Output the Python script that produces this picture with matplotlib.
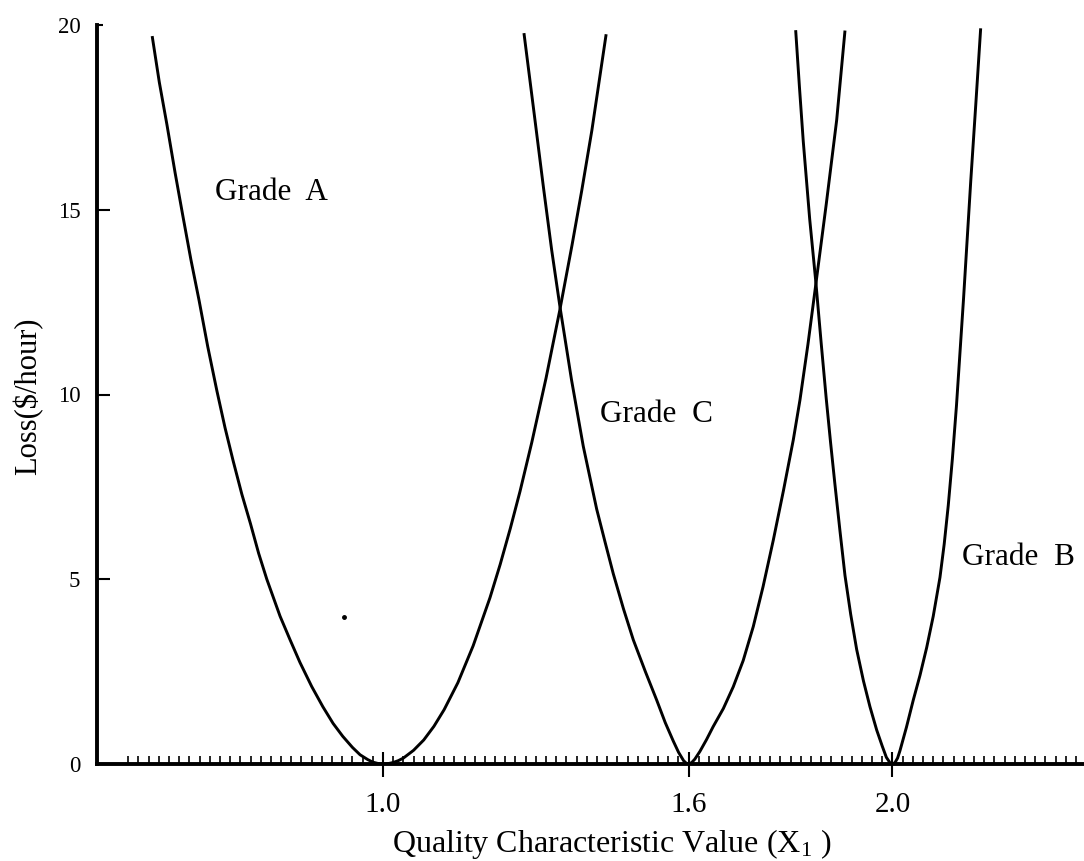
import numpy as np
import matplotlib
matplotlib.use('Agg')
import matplotlib.pyplot as plt
from matplotlib.ticker import FixedLocator

plt.rcParams['font.family'] = ['Liberation Serif', 'DejaVu Serif']
plt.rcParams['mathtext.fontset'] = 'custom'
plt.rcParams['mathtext.rm'] = 'Liberation Serif'
plt.rcParams['mathtext.it'] = 'Liberation Serif:italic'

# Courbes de perte (x = valeur de la caracteristique, y = $/heure)
grade_a_x = [0.547, 0.561, 0.576, 0.592, 0.607, 0.623, 0.639, 0.656, 0.674, 0.690,
             0.706, 0.723, 0.740, 0.756, 0.772, 0.798, 0.818, 0.837, 0.860, 0.882,
             0.902, 0.921, 0.940, 0.955, 0.970, 0.980, 0.990, 1.000, 1.010, 1.020,
             1.030, 1.040, 1.060, 1.080, 1.100, 1.120, 1.147, 1.177, 1.210, 1.230,
             1.250, 1.269, 1.292, 1.320, 1.347, 1.371, 1.390, 1.410, 1.438]
grade_a_loss = [19.70, 18.45, 17.30, 16.00, 14.85, 13.65, 12.55, 11.30, 10.10, 9.10,
                8.20, 7.30, 6.50, 5.70, 5.00, 4.00, 3.35, 2.75, 2.10, 1.55,
                1.10, 0.75, 0.45, 0.25, 0.12, 0.05, 0.015, 0.00, 0.01, 0.04,
                0.09, 0.16, 0.37, 0.65, 1.02, 1.47, 2.20, 3.20, 4.50, 5.40,
                6.38, 7.38, 8.70, 10.44, 12.28, 14.04, 15.51, 17.15, 19.75]

grade_c_x = [1.2767, 1.2983, 1.3150, 1.3311, 1.3474, 1.3700, 1.3931, 1.4194, 1.4360,
             1.4520, 1.4720, 1.4913, 1.5150, 1.5372, 1.5540, 1.5698, 1.5800, 1.5900,
             1.5950, 1.6000, 1.6060, 1.6120, 1.6220, 1.6350, 1.6480, 1.6680, 1.6875,
             1.7070, 1.7268, 1.7460, 1.7661, 1.7860, 1.8053, 1.8184, 1.8340, 1.8498,
             1.8700, 1.8905, 1.9068]
grade_c_loss = [19.78, 17.43, 15.60, 13.91, 12.37, 10.40, 8.60, 6.90, 6.00,
                5.15, 4.20, 3.36, 2.50, 1.73, 1.12, 0.62, 0.32, 0.09,
                0.025, 0.00, 0.04, 0.13, 0.34, 0.66, 1.01, 1.50, 2.09,
                2.80, 3.72, 4.80, 6.06, 7.40, 8.77, 9.85, 11.35, 13.01,
                15.15, 17.43, 19.85]

grade_b_x = [1.8100, 1.8175, 1.8249, 1.8375, 1.8498, 1.8600, 1.8699, 1.8785, 1.8868,
             1.8970, 1.9068, 1.9180, 1.9297, 1.9430, 1.9558, 1.9690, 1.9800, 1.9880,
             1.9950, 2.0000, 2.0050, 2.0100, 2.0147, 2.0275, 2.0408, 2.0540, 2.0671,
             2.0800, 2.0932, 2.1015, 2.1095, 2.1175, 2.1256, 2.1395, 2.1535, 2.1635,
             2.1731]
grade_b_loss = [19.86, 18.30, 16.85, 14.75, 13.01, 11.40, 9.90, 8.70, 7.60,
                6.30, 5.10, 4.05, 3.10, 2.25, 1.55, 0.92, 0.48, 0.18,
                0.035, 0.00, 0.04, 0.16, 0.36, 1.00, 1.73, 2.40, 3.15,
                4.00, 5.05, 5.95, 7.00, 8.25, 9.70, 12.60, 15.75, 17.85,
                19.91]

# petit point isole visible sur l'original
stray_x = [0.924]
stray_y = [3.99]

target_values = [1.0, 1.6, 2.0]
target_labels = ['1.0', '1.6', '2.0']
loss_ticks = [0, 5, 10, 15, 20]

fig = plt.figure(figsize=(10.84, 8.61), dpi=100)
ax = fig.add_axes([97 / 1084, 97 / 861, 987 / 1084, 739 / 861])

for xs, ys in [(grade_a_x, grade_a_loss), (grade_c_x, grade_c_loss), (grade_b_x, grade_b_loss)]:
    ax.plot(xs, ys, color='black', lw=2.1, solid_joinstyle='round', solid_capstyle='butt')
ax.plot(stray_x, stray_y, 'o', color='black', ms=2.5)

ax.set_xlim(0.4387, 2.3759)
ax.set_ylim(0, 20)

for side in ['top', 'right']:
    ax.spines[side].set_visible(False)
for side in ['left', 'bottom']:
    ax.spines[side].set_linewidth(2.8)

ax.set_xticks(target_values, labels=target_labels)
ax.xaxis.set_minor_locator(FixedLocator(np.arange(0.50, 2.37, 0.02)))
ax.tick_params(axis='x', which='major', direction='inout', length=18, width=1.5,
               pad=11, labelsize=21)
ax.tick_params(axis='x', which='minor', direction='in', length=6, width=1.2)

ax.set_yticks(loss_ticks)
ax.tick_params(axis='y', direction='in', length=9.5, width=1.5, pad=12, labelsize=16.5)
ax.yaxis.get_major_ticks()[-1].tick1line.set_markersize(4.5)

ax.text(0.670, 15.26, 'Grade  A', fontsize=22.5, ha='left', va='baseline')
ax.text(1.426, 9.26, 'Grade  C', fontsize=22.5, ha='left', va='baseline')
ax.text(2.136, 5.39, 'Grade  B', fontsize=22.5, ha='left', va='baseline')

fig.text(28 / 1084, 1 - 396 / 861, r'Loss(\$/hour)', rotation=90,
         ha='center', va='center', fontsize=22)
fig.text(612 / 1084, 1 - 852 / 861, r'Quality Characteristic Value ($\mathrm{X}_1$ )',
         ha='center', va='baseline', fontsize=23)

fig.savefig('out.png', dpi=100)
